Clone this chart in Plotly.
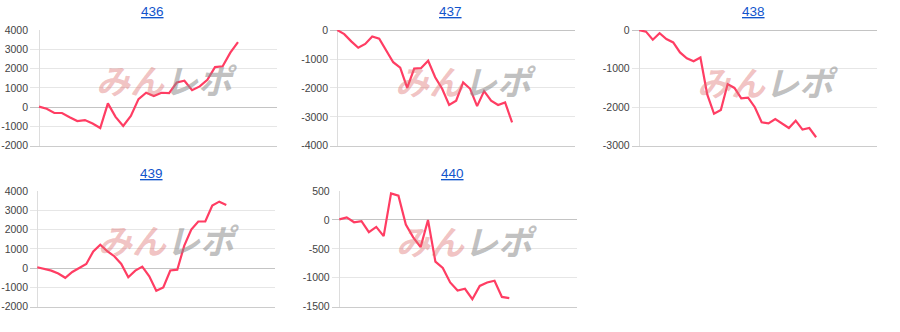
import plotly.graph_objects as go

W, H = 900, 332

titles = ["436", "437", "438", "439", "440"]

s436 = [30, -80, -300, -300, -520, -720, -670, -850, -1080, 200, -500, -970, -450, 420,
        750, 580, 750, 730, 1280, 1370, 880, 1080, 1420, 2080, 2120, 2830, 3380]
s437 = [0, -140, -390, -610, -480, -220, -300, -720, -1110, -1300, -2000, -1330, -1310,
        -1060, -1630, -2030, -2590, -2440, -1810, -2030, -2630, -2110, -2440, -2590, -2500, -3190]
s438 = [0, -40, -250, -80, -230, -320, -580, -730, -810, -710, -1670, -2170, -2070, -1400,
        -1500, -1770, -1750, -2000, -2390, -2420, -2310, -2420, -2540, -2350, -2580, -2540, -2780]
s439 = [50, -30, -130, -280, -500, -200, 0, 220, 870, 1220, 880, 620, 220, -470, -130, 80,
        -420, -1170, -1000, -120, -80, 1170, 2000, 2420, 2420, 3250, 3450, 3280]
s440 = [10, 45, -40, -20, -210, -120, -280, 460, 420, -80, -300, -470, 0, -720, -830, -1080,
        -1220, -1190, -1370, -1140, -1080, -1050, -1330, -1350]

series = [s436, s437, s438, s439, s440]

yticks = [
    [-2000, -1000, 0, 1000, 2000, 3000, 4000],
    [-4000, -3000, -2000, -1000, 0],
    [-3000, -2000, -1000, 0],
    [-2000, -1000, 0, 1000, 2000, 3000, 4000],
    [-1500, -1000, -500, 0, 500],
]

# layout: (left px, right px, top px, bottom px, xmin, xmax, title x px, title y px, watermark x, y)
panels = [
    (30, 277, 25, 145, -1.18, 31.1, 152, 6, 167, 76),
    (330, 575, 25, 145, -1.04, 34.0, 451, 6, 466, 77),
    (631.7, 877, 25, 145, -1.1, 34.95, 753, 6, 768, 78),
    (30, 275, 192, 312, -1.04, 33.96, 151, 174, 169, 242),
    (331.7, 577, 192, 312, -1.03, 32.16, 453, 174, 467, 243),
]

fig = go.Figure()
annotations = []
for i, (vals, ttl, tv, p) in enumerate(zip(series, titles, yticks, panels)):
    l, r, t, b, xmin, xmax, tx, ty, wx, wy = p
    n = i + 1
    xa = "x" if n == 1 else f"x{n}"
    ya = "y" if n == 1 else f"y{n}"
    fig.add_trace(go.Scatter(
        x=list(range(len(vals))), y=vals, mode="lines",
        line=dict(color="#ff3d63", width=2.2),
        xaxis=xa, yaxis=ya, showlegend=False, hoverinfo="y",
    ))
    xkey = "xaxis" if n == 1 else f"xaxis{n}"
    ykey = "yaxis" if n == 1 else f"yaxis{n}"
    fig.layout[xkey] = dict(
        domain=[l / W, r / W], range=[xmin, xmax], anchor=ya,
        showgrid=False, showticklabels=False, ticks="",
        zeroline=True, zerolinecolor="#dddddd", zerolinewidth=1,
        showline=True, linecolor="#cccccc", linewidth=1, fixedrange=True,
    )
    fig.layout[ykey] = dict(
        domain=[1 - b / H, 1 - t / H], range=[tv[0], tv[-1]], anchor=xa,
        tickvals=tv, ticktext=[str(v) for v in tv],
        showgrid=True, gridcolor="#e6e6e6", gridwidth=1,
        zeroline=True, zerolinecolor="#c4c4c4", zerolinewidth=1,
        showline=False, ticks="", ticklabelstandoff=1,
        tickfont=dict(family="Arial, Liberation Sans", size=10.5, color="#444444"),
        fixedrange=True,
    )
    annotations.append(dict(
        text=f"<u>{ttl}</u>", xref="paper", yref="paper",
        x=tx / W, y=1 - ty / H, xanchor="center", yanchor="middle",
        showarrow=False, font=dict(family="Arial, Liberation Sans", size=13.5, color="#1155cc"),
    ))
    annotations.append(dict(
        text="<b><i><span style='color:rgba(222,110,110,0.42)'>みん</span>"
             "<span style='color:rgba(140,140,140,0.55)'>レポ</span></i></b>",
        xref="paper", yref="paper", x=wx / W, y=1 - wy / H,
        xanchor="center", yanchor="middle", showarrow=False,
        font=dict(family="Noto Sans CJK JP", size=34, weight=900),
    ))

fig.update_layout(
    width=W, height=H, margin=dict(l=0, r=0, t=0, b=0),
    paper_bgcolor="white", plot_bgcolor="white",
    annotations=annotations,
)

fig.write_html("out.html")
